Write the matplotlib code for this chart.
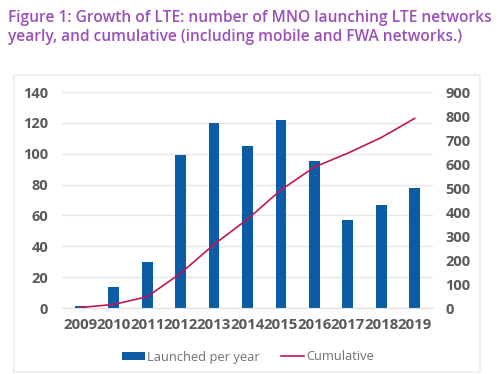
import matplotlib
matplotlib.use("Agg")
import matplotlib.pyplot as plt
from matplotlib.patches import Rectangle

anos = ["2009", "2010", "2011", "2012", "2013", "2014", "2015", "2016", "2017", "2018", "2019"]
lancados = [1.5, 13.5, 30, 99, 120, 105, 122, 95, 57, 67, 78]
acumulado = [2, 15, 47, 145, 265, 370, 492, 587, 645, 710, 790]

plt.rcParams["font.family"] = ["Open Sans", "DejaVu Sans"]

fig = plt.figure(figsize=(4.99, 3.74), dpi=100)
fig.patches.append(Rectangle((14 / 499, 1 - 372 / 374), 466 / 499, 297 / 374,
                             transform=fig.transFigure, fill=False,
                             edgecolor="#ececec", linewidth=1.2))

fig.text(8 / 499, 1 - 10 / 374,
         "Figure 1: Growth of LTE: number of MNO launching LTE networks\n"
         "yearly, and cumulative (including mobile and FWA networks.)",
         color="#9b4fb8", fontsize=11.2, fontweight="semibold",
         va="top", ha="left", linespacing=1.28)

ax = fig.add_axes([62 / 499, 1 - 308 / 374, 371 / 499, 216 / 374])
x = range(len(anos))
barras = ax.bar(x, lancados, width=0.32, color="#0b5ca5", label="Launched per year", zorder=2)
ax.set_ylim(0, 140)
ax.set_yticks(range(0, 141, 20))
ax.set_xlim(-0.55, len(anos) - 0.45)
ax.set_xticks(list(x))
ax.set_xticklabels(anos)
ax.grid(axis="y", color="#e6e6e6", linewidth=1, zorder=0)
for s in ax.spines.values():
    s.set_visible(False)
ax.spines["bottom"].set_visible(True)
ax.spines["bottom"].set_color("#e0e0e0")
ax.tick_params(axis="y", length=0, labelsize=10.5, labelcolor="#595959", pad=10)
ax.tick_params(axis="x", length=0, labelsize=10.8, labelcolor="#595959", pad=7)
for t in ax.get_xticklabels() + ax.get_yticklabels():
    t.set_fontweight("bold")

ax2 = ax.twinx()
linha, = ax2.plot(x, acumulado, color="#c0175a", linewidth=1.2, label="Cumulative")
ax2.set_ylim(0, 900)
ax2.set_yticks(range(0, 901, 100))
for s in ax2.spines.values():
    s.set_visible(False)
ax2.tick_params(length=0, labelsize=10.5, labelcolor="#595959", pad=9)
for t in ax2.get_yticklabels():
    t.set_fontweight("bold")

fig.legend(handles=[barras, linha], loc="center", bbox_to_anchor=(248 / 499, 1 - 357 / 374),
           ncol=2, frameon=False, fontsize=9.3, labelcolor="#707070",
           handlelength=1.8, handleheight=0.5, columnspacing=1.6, handletextpad=0.2)

fig.savefig("out.png", dpi=100)
